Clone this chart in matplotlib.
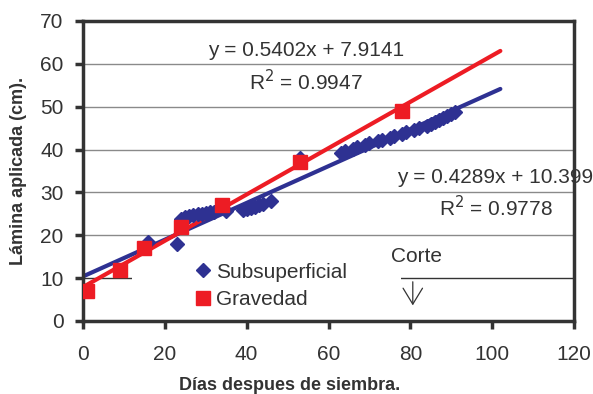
import matplotlib
matplotlib.use('Agg')
import matplotlib.pyplot as plt
import numpy as np
from matplotlib.patches import Rectangle

plt.rcParams['font.family'] = ['Liberation Sans', 'DejaVu Sans']

# riego subsuperficial (dias, lamina cm)
dias_sub = [16, 23, 24, 25, 26, 27, 28, 29, 30, 31, 32, 35, 39, 40, 41, 42, 43, 44, 46,
            53, 63, 64, 66, 67, 69, 70, 72, 73, 75, 76, 78, 79, 81, 82, 84, 85, 86,
            87, 88, 89, 90, 91]
lam_sub = [18.5, 18, 23.8, 24.2, 24.5, 24.8, 25, 25, 25.2, 25.4, 25.5, 25.6, 25.9, 26.2,
           26.4, 26.6, 27, 27.2, 28, 38, 39.2, 39.6, 40.1, 40.5, 41, 41.5, 42, 42.3, 42.8,
           43.2, 43.7, 44, 44.5, 45, 45.6, 46, 46.5, 47, 47.4, 47.9, 48.3, 48.8]
# riego por gravedad
dias_grav = [1, 9, 15, 24, 34, 53, 78]
lam_grav = [7, 12, 17, 22, 27, 37.2, 49]

azul = '#2e3192'
rojo = '#ed1c24'
gris = '#333333'

fig = plt.figure(figsize=(5.93, 3.94), dpi=100)
ax = fig.add_axes([83/593, 73/394, 491/593, 300/394])

# lineas de tendencia (ajuste lineal)
xt = np.array([0, 102])
ax.plot(xt, 0.4289*xt + 10.399, color=azul, lw=3, zorder=2, solid_capstyle='round')
ax.plot(xt, 0.5402*xt + 7.9141, color=rojo, lw=3, zorder=2.1, solid_capstyle='round')

ax.plot(dias_sub, lam_sub, 'D', color=azul, ms=7.5, mec=azul, zorder=3, label='Subsuperficial')
ax.plot(dias_grav, lam_grav, 's', color=rojo, ms=9.5, mec=rojo, zorder=3.1, label='Gravedad')

ax.set_xlim(0, 120)
ax.set_ylim(0, 70)
ax.set_xticks(range(0, 121, 20))
ax.set_yticks(range(0, 71, 10))
ax.set_axisbelow(True)
ax.yaxis.grid(True, color='#8a8a8a', lw=1)
ax.yaxis.get_gridlines()[1].set_color('#333333')

for s in ax.spines.values():
    s.set_color(gris)
    s.set_linewidth(2.5)
ax.tick_params(axis='x', length=6, width=2.5, color=gris, pad=11, labelsize=15, labelcolor=gris)
ax.tick_params(axis='y', length=6, width=2.5, color=gris, pad=8, labelsize=15, labelcolor=gris)

# fondo blanco de la leyenda
ax.add_patch(Rectangle((12, 0.3), 65.6, 14.3, facecolor='white', edgecolor='none', zorder=1))
ax.legend(loc='lower left', bbox_to_anchor=(0.2, 0.005), frameon=False, fontsize=15,
          handletextpad=0.05, handlelength=1.1, labelspacing=0.4, labelcolor=gris,
          borderaxespad=0.1)

ax.text(54.6, 63.2, 'y = 0.5402x + 7.9141', ha='center', va='center', fontsize=15, color=gris)
ax.text(54.6, 55.9, 'R$^2$ = 0.9947', ha='center', va='center', fontsize=15, color=gris)
ax.text(100.6, 33.4, 'y = 0.4289x + 10.399', ha='center', va='center', fontsize=15, color=gris)
ax.text(101.0, 26.4, 'R$^2$ = 0.9778', ha='center', va='center', fontsize=15, color=gris)

ax.text(81.6, 15.0, 'Corte', ha='center', va='center', fontsize=15, color=gris)
ax.annotate('', xy=(80.6, 3.0), xytext=(80.6, 9.8),
            arrowprops=dict(arrowstyle='->, head_length=1.15, head_width=0.7',
                            mutation_scale=10, color=gris, lw=0.9))

ax.set_xlabel('Días despues de siembra.', fontsize=13, fontweight='bold', color=gris)
ax.xaxis.set_label_coords(0.42, -0.185)
ax.set_ylabel('Lámina aplicada (cm).', fontsize=13, fontweight='bold', color=gris)
ax.yaxis.set_label_coords(-0.115, 0.5)

fig.savefig('out.png', dpi=100)
